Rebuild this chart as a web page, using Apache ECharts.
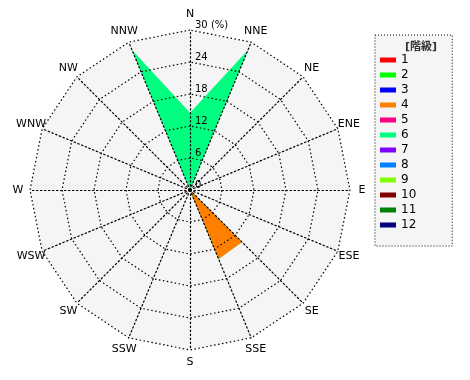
<!DOCTYPE html>
<html>
<head>
<meta charset="utf-8">
<script src="https://cdn.jsdelivr.net/npm/echarts@6/dist/echarts.min.js"></script>
<style>html,body{margin:0;padding:0;background:#fff;}#c{width:470px;height:380px;}</style>
</head>
<body>
<div id="c"></div>
<script>
// Directions, clockwise from north
const directions = ['N','NNE','NE','ENE','E','ESE','SE','SSE','S','SSW','SW','WSW','W','WNW','NW','NNW'];
const classNames = ['1','2','3','4','5','6','7','8','9','10','11','12'];
const classColors = ['#ff0000','#00ff00','#0000ff','#ff8000','#ff0080','#00ff80','#8000ff','#0080ff','#80ff00','#800000','#008000','#000080'];
const radialTicks = [0, 6, 12, 18, 24, 30];
// Frequency (%) per class, per direction (same order as directions)
const class1  = [0,0,0,0,0,0,0,0,0,0,0,0,0,0,0,0];
const class2  = [0,0,0,0,0,0,0,0,0,0,0,0,0,0,0,0];
const class3  = [0,0,0,0,0,0,0,0,0,0,0,0,0,0,0,0];
const class4  = [0,0,0,0,0,0,13.8,14.0,0,0,0,0,0,0,0,0];
const class5  = [0,0,0,0,0,0,0,0,0,0,0,0,0,0,0,0];
const class6  = [14.5,28.4,0,0,0,0,0,0,0,0,0,0,0,0,0,28.4];
const class7  = [0,0,0,0,0,0,0,0,0,0,0,0,0,0,0,0];
const class8  = [0,0,0,0,0,0,0,0,0,0,0,0,0,0,0,0];
const class9  = [0,0,0,0,0,0,0,0,0,0,0,0,0,0,0,0];
const class10 = [0,0,0,0,0,0,0,0,0,0,0,0,0,0,0,0];
const class11 = [0,0,0,0,0,0,0,0,0,0,0,0,0,0,0,0];
const class12 = [0,0,0,0,0,0,0,0,0,0,0,0,0,0,0,0];
const classValues = [class1,class2,class3,class4,class5,class6,class7,class8,class9,class10,class11,class12];

const FONT = '"DejaVu Sans", "Noto Sans CJK JP", sans-serif';
const rMax = radialTicks[radialTicks.length - 1];
const DOT = [1.5, 2.5];

// radar indicators run counter-clockwise: N, NNW, NW, ...
const ccwIdx = directions.map((d, i) => (16 - i) % 16);
function makeIndicators(withLabel) {
  return ccwIdx.map((di, k) => {
    const ind = { name: directions[di], min: 0, max: rMax };
    if (withLabel && k === 0) {
      ind.axisLabel = {
        show: true, margin: -5, align: 'left', verticalAlign: 'bottom',
        fontSize: 10, color: '#000', fontFamily: FONT,
        formatter: v => (v === rMax ? v + ' (%)' : String(v))
      };
    }
    return ind;
  });
}

// cumulative stacking
const cum = [];
let run = new Array(16).fill(0);
classValues.forEach((arr) => {
  run = run.map((v, i) => v + arr[i]);
  cum.push(run.slice());
});

const series = classNames.map((name, c) => {
  const has = classValues[c].some(v => v > 0);
  return {
    type: 'radar',
    radarIndex: 0,
    z: 20 - c,
    symbol: 'none',
    silent: true,
    lineStyle: { width: 0, opacity: 0 },
    data: [{
      name: name,
      value: ccwIdx.map(di => cum[c][di]),
      itemStyle: { color: classColors[c] },
      areaStyle: { color: classColors[c], opacity: has ? 1 : 0 }
    }]
  };
});

const common = {
  center: [190, 190], radius: 160, startAngle: 90,
  shape: 'polygon', splitNumber: radialTicks.length - 1
};

const chart = echarts.init(document.getElementById('c'), null, { renderer: 'canvas' });
chart.setOption({
  animation: false,
  backgroundColor: '#fff',
  title: {
    text: '[階級]', left: 416, top: 37, textAlign: 'center',
    textStyle: { fontSize: 11, fontWeight: 'bold', color: '#333', fontFamily: FONT }
  },
  legend: {
    orient: 'vertical', left: 375, top: 35,
    padding: [18, 36, 14, 5],
    backgroundColor: '#f5f5f5', borderColor: '#000', borderWidth: 1, borderType: [1, 2],
    icon: 'rect', itemWidth: 16, itemHeight: 5, itemGap: 1,
    selectedMode: false,
    textStyle: { fontSize: 12, lineHeight: 14, color: '#000', fontFamily: FONT },
    data: classNames
  },
  radar: [
    Object.assign({}, common, {
      z: 0,
      indicator: makeIndicators(false),
      axisName: { show: false },
      axisLine: { show: false },
      splitLine: { show: false },
      splitArea: { show: true, areaStyle: { color: ['#f5f5f5'] } },
      axisLabel: { show: false },
      axisTick: { show: false }
    }),
    Object.assign({}, common, {
      z: 40,
      indicator: makeIndicators(true),
      axisName: { color: '#000', fontSize: 11, fontFamily: FONT, align: 'center', verticalAlign: 'middle' },
      nameGap: 12,
      axisLine: { lineStyle: { color: '#000', type: DOT, width: 1.2 } },
      splitLine: { lineStyle: { color: '#000', type: DOT, width: 1.2 } },
      splitArea: { show: false },
      axisLabel: { show: false },
      axisTick: { show: false }
    })
  ],
  series: series
});
</script>
</body>
</html>
